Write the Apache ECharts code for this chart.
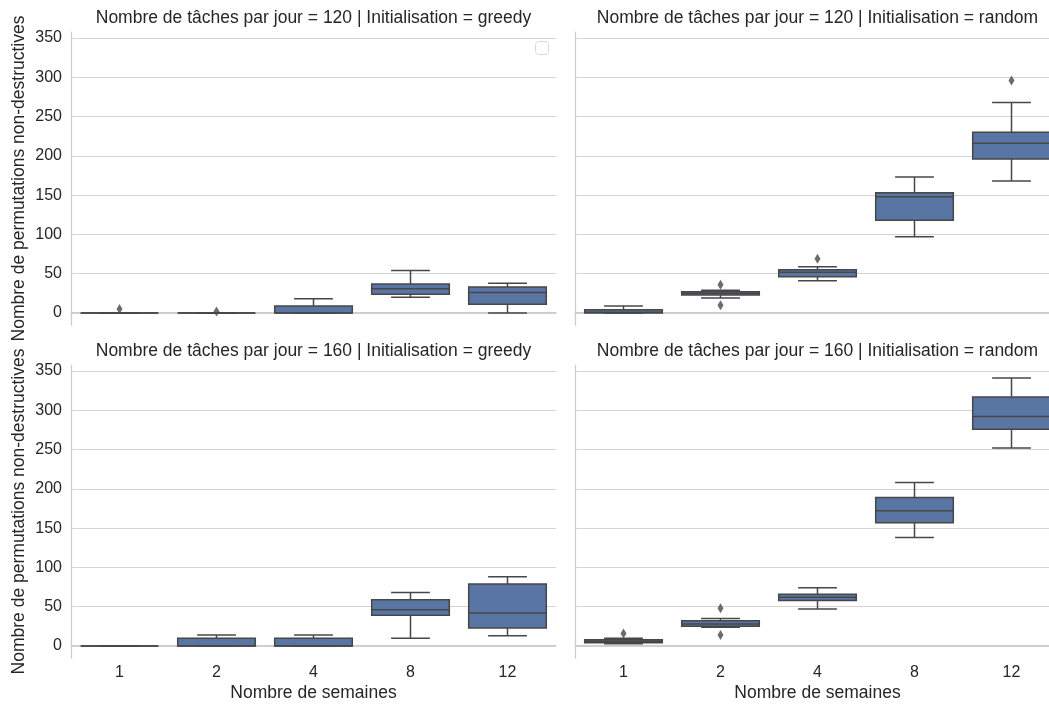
<!DOCTYPE html>
<html>
<head>
<meta charset="utf-8">
<script src="https://cdn.jsdelivr.net/npm/echarts@6/dist/echarts.min.js"></script>
<style>
  html, body { margin: 0; padding: 0; background: #fff; overflow: hidden; }
  /* le panneau de droite deborde un peu, comme dans la figure d'origine */
  #chart { width: 1065px; height: 705px; }
</style>
</head>
<body>
<div id="chart"></div>
<script>
// categories (nombre de semaines)
var weeks = ['1', '2', '4', '8', '12'];

// boxes: [min, Q1, median, Q3, max] for each week
var box120Greedy = [[0, 0, 0, 0, 0], [0, 0, 0, 0, 0], [0, 0, 0, 9, 18], [20, 24, 31, 37, 54], [0, 11, 26, 33, 38]];
var box120Random = [[0, 0, 1, 4, 9], [19, 23, 25, 27, 29], [41, 46, 52, 55, 59], [97, 118, 148, 153, 173], [168, 196, 216, 230, 268]];
var box160Greedy = [[0, 0, 0, 0, 0], [0, 0, 0, 10, 14], [0, 0, 0, 10, 14], [10, 39, 46, 59, 68], [13, 23, 42, 79, 88]];
var box160Random = [[3, 4, 6, 8, 10], [24, 25, 28, 32, 35], [47, 58, 62, 66, 74], [138, 157, 172, 189, 208], [252, 276, 292, 317, 341]];

// outliers: [week index, value]
var out120Greedy = [[0, 5], [1, 2]];
var out120Random = [[1, 36], [1, 10], [2, 69], [4, 296]];
var out160Greedy = [];
var out160Random = [[0, 16], [1, 48], [1, 14]];

// y ticks
var yTicks = [0, 50, 100, 150, 200, 250, 300, 350];

var boxColor = '#5975a4';
var lineColor = '#474747';
var gridColor = '#d4d4d4';
var spineColor = '#cccccc';
var textColor = '#262626';
var font = 'Liberation Sans, Arial, sans-serif';
var labelSize = 17.5;
var tickSize = 16;

var panels = [
  { title: 'Nombre de tâches par jour = 120 | Initialisation = greedy', box: box120Greedy, out: out120Greedy, left: 71, top: 38, first: true, bottom: false },
  { title: 'Nombre de tâches par jour = 120 | Initialisation = random', box: box120Random, out: out120Random, left: 575, top: 38, first: false, bottom: false },
  { title: 'Nombre de tâches par jour = 160 | Initialisation = greedy', box: box160Greedy, out: out160Greedy, left: 71, top: 371, first: true, bottom: true },
  { title: 'Nombre de tâches par jour = 160 | Initialisation = random', box: box160Random, out: out160Random, left: 575, top: 371, first: false, bottom: true }
];

var panelWidth = 485;
var panelHeight = 275;

//dessine une boite a la seaborn (moustaches a demi largeur)
function renderBox(params, api) {
  var x = api.value(0);
  var lo = api.coord([x, api.value(1)]);
  var q1 = api.coord([x, api.value(2)]);
  var med = api.coord([x, api.value(3)]);
  var q3 = api.coord([x, api.value(4)]);
  var hi = api.coord([x, api.value(5)]);
  var band = api.size([1, 0])[0];
  var w = band * 0.8;
  var cap = band * 0.4;
  var cx = lo[0];
  var st = { stroke: lineColor, lineWidth: 1.5, fill: null };
  return {
    type: 'group',
    children: [
      { type: 'line', shape: { x1: cx, y1: q1[1], x2: cx, y2: lo[1] }, style: st },
      { type: 'line', shape: { x1: cx, y1: q3[1], x2: cx, y2: hi[1] }, style: st },
      { type: 'line', shape: { x1: cx - cap / 2, y1: lo[1], x2: cx + cap / 2, y2: lo[1] }, style: st },
      { type: 'line', shape: { x1: cx - cap / 2, y1: hi[1], x2: cx + cap / 2, y2: hi[1] }, style: st },
      { type: 'rect', shape: { x: cx - w / 2, y: q3[1], width: w, height: q1[1] - q3[1] },
        style: { fill: boxColor, stroke: lineColor, lineWidth: 1.5 } },
      { type: 'line', shape: { x1: cx - w / 2, y1: med[1], x2: cx + w / 2, y2: med[1] }, style: st }
    ]
  };
}

var grids = [], xAxes = [], yAxes = [], series = [], titles = [];

panels.forEach(function (p, i) {
  // grille des donnees (0..350)
  grids.push({ left: p.left, top: p.top, width: panelWidth, height: panelHeight });
  // cadre (spines), un peu plus grand comme matplotlib
  grids.push({ left: p.left, top: p.top - 6, width: panelWidth, height: panelHeight + 18 });

  xAxes.push({
    gridIndex: 2 * i, type: 'category', data: weeks, boundaryGap: true,
    axisLine: { show: false }, axisTick: { show: false }, axisLabel: { show: false }, splitLine: { show: false }
  });
  xAxes.push({
    gridIndex: 2 * i + 1, type: 'category', data: weeks, boundaryGap: true,
    axisLine: { show: true, lineStyle: { color: spineColor, width: 1.25 } },
    axisTick: { show: false },
    axisLabel: { show: p.bottom, color: textColor, fontSize: tickSize, fontFamily: font, margin: 7 },
    name: p.bottom ? 'Nombre de semaines' : '',
    nameLocation: 'middle', nameGap: 26,
    nameTextStyle: { color: textColor, fontSize: labelSize, fontFamily: font }
  });

  yAxes.push({
    gridIndex: 2 * i, type: 'value', min: yTicks[0], max: yTicks[yTicks.length - 1], interval: 50,
    axisLine: { show: false }, axisTick: { show: false },
    axisLabel: { show: p.first, color: textColor, fontSize: tickSize, fontFamily: font, margin: 9 },
    splitLine: { show: true, lineStyle: { color: gridColor, width: 1 } }
  });
  yAxes.push({
    gridIndex: 2 * i + 1, type: 'value', min: -16, max: 358,
    axisLine: { show: true, lineStyle: { color: spineColor, width: 1.25 } },
    axisTick: { show: false }, axisLabel: { show: false }, splitLine: { show: false },
    name: p.first ? 'Nombre de permutations non-destructives' : '',
    nameLocation: 'middle', nameGap: 43,
    nameTextStyle: { color: textColor, fontSize: labelSize, fontFamily: font }
  });

  series.push({
    type: 'custom', xAxisIndex: 2 * i, yAxisIndex: 2 * i,
    renderItem: renderBox,
    encode: { x: 0, y: [1, 2, 3, 4, 5] },
    data: p.box.map(function (b, k) { return [k].concat(b); }),
    z: 2
  });
  series.push({
    type: 'scatter', xAxisIndex: 2 * i, yAxisIndex: 2 * i,
    symbol: 'diamond', symbolSize: [6, 10],
    itemStyle: { color: lineColor },
    data: p.out, z: 3
  });

  titles.push({
    text: p.title, left: p.left + panelWidth / 2, top: p.top - 29, textAlign: 'center', padding: 0,
    textStyle: { color: textColor, fontSize: labelSize, fontWeight: 'normal', fontFamily: font }
  });
});

var chart = echarts.init(document.getElementById('chart'), null, { renderer: 'canvas' });
chart.setOption({
  backgroundColor: '#ffffff',
  animation: false,
  title: titles,
  grid: grids,
  xAxis: xAxes,
  yAxis: yAxes,
  series: series,
  // legende vide de matplotlib
  graphic: [{
    type: 'rect', left: 535, top: 41,
    shape: { width: 13, height: 13, r: 3 },
    style: { fill: '#ffffff', stroke: '#d8d8d8', lineWidth: 1 }
  }]
});
</script>
</body>
</html>
